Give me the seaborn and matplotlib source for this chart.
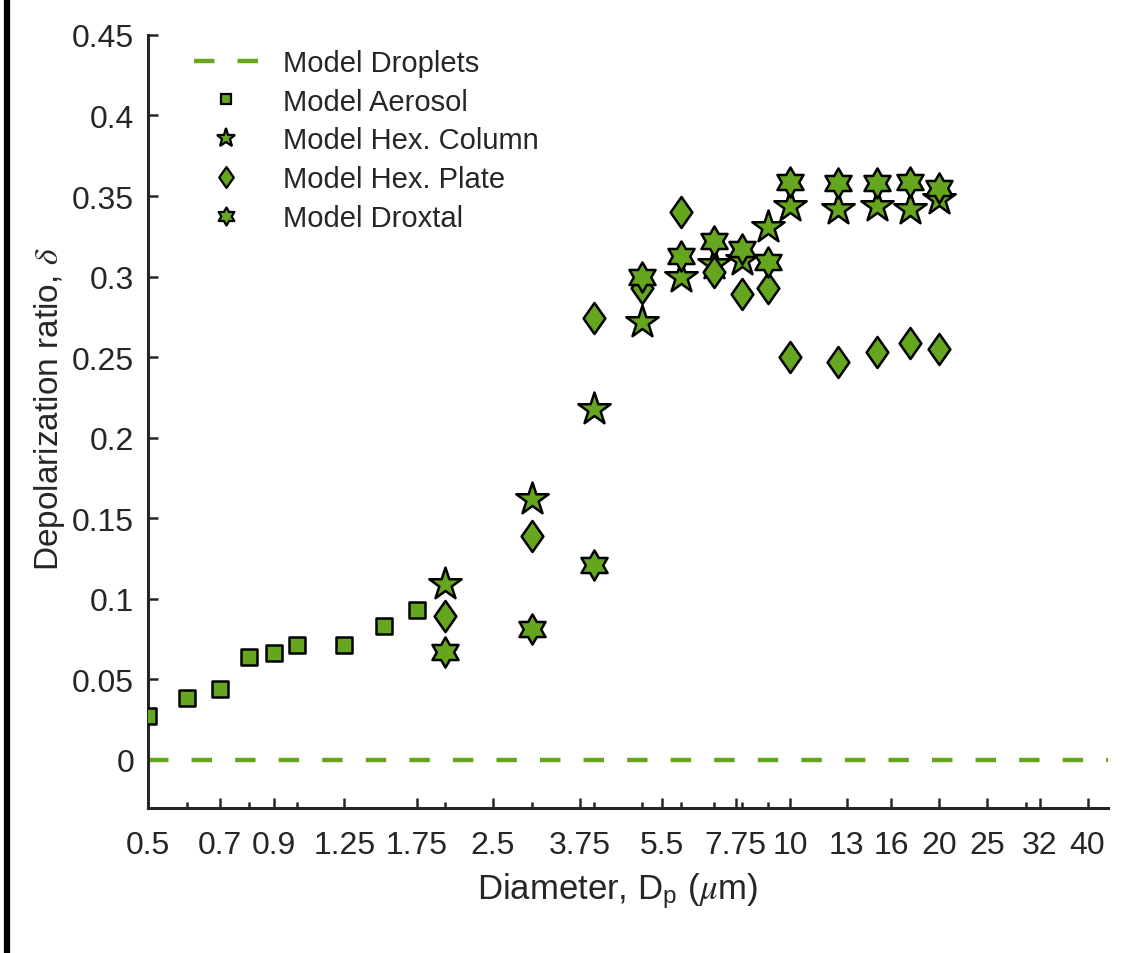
import numpy as np
import seaborn as sns
import matplotlib.pyplot as plt
from matplotlib import ticker, font_manager
from matplotlib.path import Path
from matplotlib.lines import Line2D

# Depolarization ratio vs diameter
droplet_d = [0.5, 44]
droplet_delta = [0.0, 0.0]

aerosol_d = [0.5, 0.6, 0.7, 0.8, 0.9, 1.0, 1.25, 1.5, 1.75]
aerosol_delta = [0.027, 0.038, 0.044, 0.064, 0.066, 0.071, 0.071, 0.083, 0.093]

ice_d = [2, 3, 4, 5, 6, 7, 8, 9, 10, 12.5, 15, 17.5, 20]
column_delta = [0.109, 0.162, 0.218, 0.272, 0.300, 0.308, 0.310, 0.331, 0.344, 0.342, 0.344, 0.342, 0.348]
plate_delta = [0.089, 0.139, 0.274, 0.293, 0.340, 0.303, 0.289, 0.293, 0.250, 0.247, 0.253, 0.259, 0.255]
droxtal_delta = [0.067, 0.081, 0.121, 0.300, 0.313, 0.322, 0.317, 0.309, 0.359, 0.358, 0.358, 0.359, 0.355]

xtick_vals = [0.5, 0.7, 0.9, 1.25, 1.75, 2.5, 3.75, 5.5, 7.75, 10, 13, 16, 20, 25, 32, 40]
xtick_labels = ['0.5', '0.7', '0.9', '1.25', '1.75', '2.5', '3.75', '5.5', '7.75',
                '10', '13', '16', '20', '25', '32', '40']
ytick_vals = [0, 0.05, 0.1, 0.15, 0.2, 0.25, 0.3, 0.35, 0.4, 0.45]
ytick_labels = ['0', '0.05', '0.1', '0.15', '0.2', '0.25', '0.3', '0.35', '0.4', '0.45']

green = '#66a61e'
dark = '#262626'

sns.set_style('ticks')
installed = {f.name for f in font_manager.fontManager.ttflist}
base_font = 'Liberation Sans' if 'Liberation Sans' in installed else 'DejaVu Sans'
plt.rcParams['font.family'] = [base_font, 'DejaVu Sans']
plt.rcParams['mathtext.fontset'] = 'stix'

# marker shapes
hexagram = Path.unit_regular_star(6, 0.577)
diamond = Path([(0, 1), (0.7, 0), (0, -1), (-0.7, 0), (0, 1)],
               [Path.MOVETO, Path.LINETO, Path.LINETO, Path.LINETO, Path.CLOSEPOLY])

fig = plt.figure(figsize=(11.33, 9.54), dpi=100)
ax = fig.add_axes([0.1306, 0.152, 0.8473, 0.8103])

sns.lineplot(x=droplet_d, y=droplet_delta, color=green, lw=3.2,
             dashes=False, ax=ax, zorder=2)
ax.lines[0].set_linestyle((0, (4.6, 5.2)))

sns.scatterplot(x=aerosol_d, y=aerosol_delta, marker='s', s=130, color=green,
                edgecolor='black', linewidth=1.8, ax=ax, zorder=3)
sns.scatterplot(x=ice_d, y=column_delta, marker='*', s=600, color=green,
                edgecolor='black', linewidth=1.8, ax=ax, zorder=3)
sns.scatterplot(x=ice_d, y=plate_delta, marker=diamond, s=500, color=green,
                edgecolor='black', linewidth=1.8, ax=ax, zorder=3)
sns.scatterplot(x=ice_d, y=droxtal_delta, marker=hexagram, s=470, color=green,
                edgecolor='black', linewidth=1.8, ax=ax, zorder=3)

ax.set_xscale('log')
ax.set_xlim(0.5, 44)
ax.set_ylim(-0.03, 0.45)
ax.set_xticks(xtick_vals)
ax.set_xticklabels(xtick_labels)
ax.xaxis.set_minor_locator(ticker.LogLocator(base=10, subs=np.arange(1, 10), numticks=50))
ax.xaxis.set_minor_formatter(ticker.NullFormatter())
ax.set_yticks(ytick_vals)
ax.set_yticklabels(ytick_labels)

ax.tick_params(which='major', direction='in', length=7, width=1.8, labelsize=23,
               pad=10, colors=dark)
ax.tick_params(axis='x', which='major', pad=16)
ax.tick_params(which='minor', direction='in', length=4, width=1.8, colors=dark)
sns.despine(ax=ax)
for side in ['left', 'bottom']:
    ax.spines[side].set_linewidth(2.2)
    ax.spines[side].set_color(dark)

ax.set_xlabel(r'Diameter, D$_\mathregular{p}$ ($\mu$m)', fontsize=25, color=dark, va='top')
ax.xaxis.set_label_coords(0.489, -0.08)
ax.set_ylabel(r'Depolarization ratio, $\delta$', fontsize=24, color=dark)
ax.yaxis.set_label_coords(-0.084, 0.517)

handles = [
    Line2D([], [], color=green, lw=3.2, ls=(0, (4.6, 5.2))),
    Line2D([], [], ls='none', marker='s', ms=7.5, mfc=green, mec='black', mew=1.6),
    Line2D([], [], ls='none', marker='*', ms=14, mfc=green, mec='black', mew=1.6),
    Line2D([], [], ls='none', marker=diamond, ms=15, mfc=green, mec='black', mew=1.6),
    Line2D([], [], ls='none', marker=hexagram, ms=13, mfc=green, mec='black', mew=1.6),
]
labels = ['Model Droplets', 'Model Aerosol', 'Model Hex. Column',
          'Model Hex. Plate', 'Model Droxtal']
ax.legend(handles, labels, loc='upper left', bbox_to_anchor=(0.048, 0.982),
          frameon=False, fontsize=21, borderpad=0, handlelength=2.2,
          handletextpad=0.85, labelspacing=0.37, borderaxespad=0)

# dark border line at the left edge of the original image
fig.add_artist(Line2D([6.5 / 1133, 6.5 / 1133], [0, 1], transform=fig.transFigure,
                      color='black', lw=4.5))

fig.savefig('out.png', dpi=100)
